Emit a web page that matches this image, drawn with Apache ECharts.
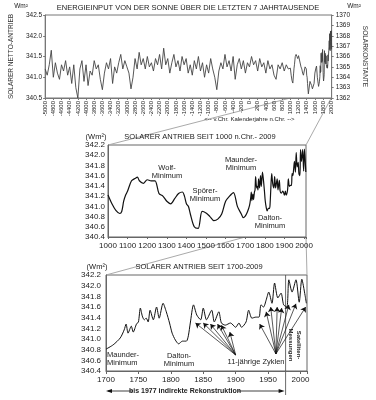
<!DOCTYPE html>
<html>
<head>
<meta charset="utf-8">
<script src="https://cdn.jsdelivr.net/npm/echarts@6/dist/echarts.min.js"></script>
<style>
  html, body { margin: 0; padding: 0; background: #fff; }
  #main { width: 376px; height: 400px; }
</style>
</head>
<body>
<div id="main"></div>
<script>
// panel 1: -5000 .. 950 (step 50), later years come from panel 2/3 data
const years1 = [-5000,-4950,-4900,-4850,-4800,-4750,-4700,-4650,-4600,-4550,
  -4500,-4450,-4400,-4350,-4300,-4250,-4200,-4150,-4100,-4050,
  -4000,-3950,-3900,-3850,-3800,-3750,-3700,-3650,-3600,-3550,
  -3500,-3450,-3400,-3350,-3300,-3250,-3200,-3150,-3100,-3050,
  -3000,-2950,-2900,-2850,-2800,-2750,-2700,-2650,-2600,-2550,
  -2500,-2450,-2400,-2350,-2300,-2250,-2200,-2150,-2100,-2050,
  -2000,-1950,-1900,-1850,-1800,-1750,-1700,-1650,-1600,-1550,
  -1500,-1450,-1400,-1350,-1300,-1250,-1200,-1150,-1100,-1050,
  -1000,-950,-900,-850,-800,-750,-700,-650,-600,-550,
  -500,-450,-400,-350,-300,-250,-200,-150,-100,-50,
  0,50,100,150,200,250,300,350,400,450,
  500,550,600,650,700,750,800,850,900,950];
const vals1 = [341.2,341.05,341.3,341.65,341.0,341.35,341.1,340.95,341.3,341.15,
  341.4,341.05,341.25,340.85,341.3,340.75,340.5,341.2,341.4,340.9,
  341.3,340.8,341.15,341.05,341.4,341.2,341.3,340.95,340.7,341.1,
  341.35,341.2,341.45,340.85,341.25,341.1,341.35,341.55,341.2,341.4,
  341.25,341.1,340.72,341.0,341.45,341.2,341.6,341.3,341.45,341.2,
  341.5,341.25,341.35,341.15,341.45,341.3,341.55,341.2,341.7,341.3,
  341.45,341.1,341.35,341.55,341.25,341.4,341.15,341.5,341.3,341.45,
  341.1,341.3,341.05,341.4,341.2,341.5,341.15,341.35,341.0,341.3,
  341.1,341.45,341.2,341.0,340.7,341.15,341.35,341.2,341.55,341.25,
  341.4,341.15,341.5,340.95,341.3,341.45,341.2,341.4,341.1,341.35,
  341.25,341.5,341.3,341.4,341.15,341.45,341.25,341.35,341.1,341.4,
  341.2,341.3,341.05,340.95,341.3,341.2,341.35,341.15,341.3,341.2];

// panel 2: smooth reconstruction 1000 .. 1690
const years2 = [1000,1020,1040,1060,1070,1080,1090,1100,1120,1140,1150,1160,1180,1200,1220,1240,1260,1280,1300,1320,
  1340,1360,1380,1390,1400,1410,1420,1440,1460,1480,1500,1520,1540,1560,1580,1600,1620,1640,1660,1680,1690];
const vals2 = [341.22,341.05,340.92,340.86,340.9,341.1,341.22,341.3,341.5,341.55,341.57,341.5,341.45,341.52,341.5,341.5,341.25,341.2,341.1,341.05,
  341.15,341.25,341.28,341.2,341.05,341.0,340.85,340.6,340.57,340.9,340.87,340.8,340.72,340.75,340.85,341.1,341.2,341.27,341.0,340.85,340.78];

// panel 3: 1700 .. 2009
const years3 = [1700,1711,1722,1728,1731,1734,1739,1742,1747,1750,1753,1756,1759,1762,1765,1768,1773,1778,1782,1788,
  1793,1798,1802,1807,1812,1818,1824,1827,1830,1835,1840,1846,1850,1855,1863,1867,1874,1878,1884,1892,
  1900,1905,1909,1916,1920,1925,1931,1936,1939,1943,1947,1951,1956,1960,1965,1970,1974,1979,1982,1987,
  1993,1998,2002,2007,2009];
const vals3 = [340.81,340.89,341.02,341.17,341.28,341.11,341.24,341.13,341.28,341.32,341.58,341.43,341.36,341.39,341.32,341.54,341.36,341.6,341.39,341.67,
  341.51,341.3,341.11,340.98,340.91,340.96,340.96,341.06,341.3,341.64,341.45,341.36,341.58,341.36,341.54,341.32,341.51,341.3,341.26,341.3,
  341.22,341.3,341.22,341.32,341.54,341.39,341.41,341.41,341.64,341.6,341.73,341.88,341.67,342.05,341.77,341.86,341.64,341.6,342.11,341.88,
  342.11,341.69,342.12,341.82,341.67];

// "11-jährige Zyklen" arrows: [from, to] in data space
const cycleFrom1 = [1900, 340.7];
const cycleTo1 = [[1838, 341.3], [1850, 341.3], [1861, 341.28], [1872, 341.28], [1878, 341.26], [1891, 341.13]];
const cycleFrom2 = [1962, 340.72];
const cycleTo2 = [[1937, 341.28], [1947, 341.51], [1954, 341.6], [1964, 341.6], [1971, 341.58], [1982, 341.64], [1993, 341.66], [2008, 341.6]];

const FONT = 'Liberation Sans';

function zip(xs, ys) {
  return xs.map((x, i) => [x, ys[i]]);
}

const allYears = years1.concat(years2, years3);
const allVals = vals1.concat(vals2, vals3);

const arrowLines = [];
cycleTo1.forEach(t => arrowLines.push([{ coord: cycleFrom1 }, { coord: t }]));
cycleTo2.forEach(t => arrowLines.push([{ coord: cycleFrom2 }, { coord: t }]));

const chart = echarts.init(document.getElementById('main'));

const smallAxis = { color: '#222', fontFamily: FONT };

const option = {
  animation: false,
  backgroundColor: '#fff',
  textStyle: { fontFamily: FONT },
  grid: [
    { left: 34, top: 15, width: 310, height: 83, show: true, borderColor: '#777', borderWidth: 1 },
    { left: 108, top: 145, width: 198, height: 92, show: true, borderColor: '#666', borderWidth: 1 },
    { left: 106, top: 275, width: 201, height: 96, show: true, borderColor: '#666', borderWidth: 1 }
  ],
  xAxis: [
    {
      gridIndex: 0, type: 'value', min: -5000, max: 2010, interval: 200,
      axisLine: { onZero: false, lineStyle: { color: '#777' } },
      axisTick: { length: 2, lineStyle: { color: '#777' } },
      splitLine: { show: false },
      axisLabel: Object.assign({ rotate: 90, fontSize: 6, margin: 3,
        formatter: v => (v % 200 === 0 ? String(v) : '') }, smallAxis)
    },
    {
      gridIndex: 1, type: 'value', min: 1000, max: 2010, interval: 100,
      axisLine: { onZero: false, lineStyle: { color: '#666' } },
      axisTick: { length: 2, lineStyle: { color: '#666' } },
      splitLine: { show: false },
      axisLabel: Object.assign({ fontSize: 8, margin: 5,
        formatter: v => (v % 100 === 0 ? String(v) : '') }, smallAxis)
    },
    {
      gridIndex: 2, type: 'value', min: 1700, max: 2010, interval: 50,
      axisLine: { onZero: false, lineStyle: { color: '#666' } },
      axisTick: { length: 3, lineStyle: { color: '#666' } },
      splitLine: { show: false },
      axisLabel: Object.assign({ fontSize: 8, margin: 5,
        formatter: v => (v % 50 === 0 ? String(v) : '') }, smallAxis)
    }
  ],
  yAxis: [
    {
      gridIndex: 0, type: 'value', min: 340.5, max: 342.5, interval: 0.5, position: 'left',
      axisLine: { show: true, onZero: false, lineStyle: { color: '#777' } },
      axisTick: { show: true, length: 2, lineStyle: { color: '#777' } },
      splitLine: { show: false },
      axisLabel: Object.assign({ fontSize: 6.5, margin: 3, formatter: v => v.toFixed(1) }, smallAxis),
      name: 'SOLARER NETTO-ANTRIEB', nameLocation: 'middle', nameGap: 22,
      nameTextStyle: { fontSize: 6.5, color: '#333', fontFamily: FONT }
    },
    {
      gridIndex: 0, type: 'value', min: 1362, max: 1370, interval: 1, position: 'right',
      axisLine: { show: true, onZero: false, lineStyle: { color: '#777' } },
      axisTick: { show: true, length: 2, lineStyle: { color: '#777' } },
      splitLine: { show: false },
      axisLabel: Object.assign({ fontSize: 6.5, margin: 4, formatter: v => String(v) }, smallAxis),
      name: 'SOLARKONSTANTE', nameLocation: 'middle', nameGap: 20, nameRotate: -90,
      nameTextStyle: { fontSize: 6.5, color: '#333', fontFamily: FONT }
    },
    {
      gridIndex: 1, type: 'value', min: 340.4, max: 342.2, interval: 0.2,
      axisLine: { show: true, onZero: false, lineStyle: { color: '#666' } },
      axisTick: { show: false },
      splitLine: { show: false },
      axisLabel: Object.assign({ fontSize: 8, margin: 3, formatter: v => v.toFixed(1) }, smallAxis)
    },
    {
      gridIndex: 2, type: 'value', min: 340.4, max: 342.2, interval: 0.2,
      axisLine: { show: true, onZero: false, lineStyle: { color: '#666' } },
      axisTick: { show: false },
      splitLine: { show: false },
      axisLabel: Object.assign({ fontSize: 8, margin: 5, formatter: v => v.toFixed(1) }, smallAxis)
    }
  ],
  series: [
    {
      type: 'line', xAxisIndex: 0, yAxisIndex: 0, symbol: 'none',
      lineStyle: { color: '#444', width: 0.9 },
      data: zip(allYears, allVals)
    },
    {
      type: 'line', xAxisIndex: 1, yAxisIndex: 2, symbol: 'none', smooth: 0.3,
      lineStyle: { color: '#111', width: 1.2 },
      data: zip(years2.concat(years3), vals2.concat(vals3))
    },
    {
      type: 'line', xAxisIndex: 2, yAxisIndex: 3, symbol: 'none', smooth: 0.25,
      lineStyle: { color: '#111', width: 1 },
      data: zip(years3, vals3),
      markLine: {
        silent: true, animation: false,
        symbol: ['none', 'arrow'], symbolSize: 5,
        lineStyle: { color: '#111', width: 0.7, type: 'solid' },
        label: { show: false },
        emphasis: { disabled: true },
        data: arrowLines
      }
    }
  ]
};

chart.setOption(option);

// decorations that depend on the laid-out axes
const p = (g, x, y) => chart.convertToPixel({ gridIndex: g }, [x, y]);
function seg(a, b, color, w) {
  return { type: 'line', silent: true, shape: { x1: a[0], y1: a[1], x2: b[0], y2: b[1] },
    style: { stroke: color, lineWidth: w || 1 } };
}
function txt(x, y, text, size, opts) {
  return Object.assign({ type: 'text', x: x, y: y, silent: true,
    style: Object.assign({ text: text, fontSize: size, fontFamily: FONT, fill: '#222',
      align: 'center', verticalAlign: 'middle', lineHeight: size + 1 }, (opts && opts.style) || {}) },
    (opts && opts.el) || {});
}

const grey = '#aaa';
const zero = p(0, 0, 340.5);
const y1977top = p(2, 1977, 342.2);
const left1700 = p(2, 1700, 340.4);

const graphics = [
  // zoom connectors
  seg(p(0, 1000, 340.5), p(1, 1000, 342.2), grey),
  seg(p(0, 2000, 340.5), p(1, 2010, 342.2), grey),
  seg(p(1, 1700, 340.4), p(2, 1700, 342.2), grey),
  seg(p(1, 2010, 340.4), p(2, 2010, 342.2), grey),
  // start of satellite data
  seg(y1977top, [y1977top[0], 395], '#444', 0.8),
  // bottom arrows
  seg([left1700[0] + 2, 391], [132, 391], '#111', 0.8),
  { type: 'polygon', silent: true, shape: { points: [[left1700[0], 391], [left1700[0] + 6, 389], [left1700[0] + 6, 393]] }, style: { fill: '#111' } },
  seg([238, 391], [y1977top[0] - 4, 391], '#111', 0.8),
  { type: 'polygon', silent: true, shape: { points: [[y1977top[0] - 1, 391], [y1977top[0] - 7, 389], [y1977top[0] - 7, 393]] }, style: { fill: '#111' } },

  // panel 1 texts
  txt(188, 8, 'ENERGIEINPUT VON DER SONNE ÜBER DIE LETZTEN 7 JAHRTAUSENDE', 7.5),
  txt(21, 6, 'Wm²', 6.5),
  txt(354, 6, 'Wm²', 6.5),
  txt(zero[0], 119, '<-- v.Chr. Kalenderjahre n.Chr. -->', 6),

  // panel 2 texts
  txt(200, 137, 'SOLARER ANTRIEB SEIT 1000 n.Chr.- 2009', 7.5),
  txt(96, 137, '(Wm²)', 7.5),
  txt(167, 172, 'Wolf-\nMinimum', 7.5),
  txt(205, 195, 'Spörer-\nMinimum', 7.5),
  txt(241, 164, 'Maunder-\nMinimum', 7.5),
  txt(270, 222, 'Dalton-\nMinimum', 7.5),

  // panel 3 texts
  txt(199, 267, 'SOLARER ANTRIEB SEIT 1700-2009', 7.5),
  txt(97, 267, '(Wm²)', 7.5),
  txt(107, 359, 'Maunder-\nMinimum', 7.5, { style: { align: 'left' } }),
  txt(179, 360, 'Dalton-\nMinimum', 7.5),
  txt(256, 362, '11-jährige Zyklen', 7.5),
  txt(295, 345, 'Satelliten-\nMessungen', 6, { style: { fontWeight: 'bold', lineHeight: 8 }, el: { rotation: -Math.PI / 2 } }),
  txt(185, 391, 'bis 1977 indirekte Rekonstruktion', 7, { style: { fontWeight: 'bold' } })
];

chart.setOption({ graphic: graphics });
</script>
</body>
</html>
